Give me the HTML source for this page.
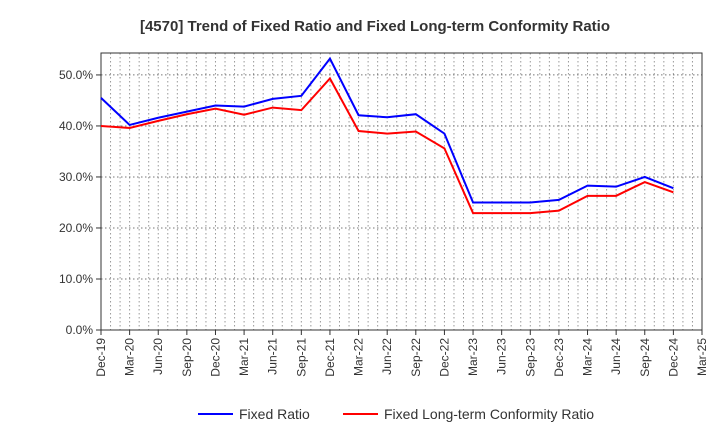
<!DOCTYPE html>
<html><head><meta charset="utf-8"><style>
body{margin:0;background:#fff;font-family:"Liberation Sans",sans-serif;}
</style></head><body>
<svg id="c" width="720" height="440" xmlns="http://www.w3.org/2000/svg" font-family="Liberation Sans, sans-serif">
<text x="375" y="31" text-anchor="middle" font-size="15" font-weight="bold" fill="#333">[4570]  Trend of Fixed Ratio and Fixed Long-term Conformity Ratio</text>
<g id="grid"></g><g id="axes"></g><g id="series"></g>
<g>
<line x1="198" y1="414" x2="233" y2="414" stroke="#0000ff" stroke-width="2"/>
<text x="239" y="419" font-size="14" fill="#333">Fixed Ratio</text>
<line x1="343" y1="414" x2="378" y2="414" stroke="#ff0000" stroke-width="2"/>
<text x="384" y="419" font-size="14" fill="#333">Fixed Long-term Conformity Ratio</text>
</g>
</svg>
<script>
const categories=["Dec-19","Mar-20","Jun-20","Sep-20","Dec-20","Mar-21","Jun-21","Sep-21","Dec-21","Mar-22","Jun-22","Sep-22","Dec-22","Mar-23","Jun-23","Sep-23","Dec-23","Mar-24","Jun-24","Sep-24","Dec-24","Mar-25"];
const fixedRatio=[45.5,40.2,41.6,42.8,44.0,43.8,45.3,45.9,53.2,42.1,41.7,42.3,38.5,25.0,25.0,25.0,25.5,28.3,28.1,30.0,27.8];
const conformityRatio=[40.0,39.6,41.0,42.3,43.4,42.2,43.6,43.1,49.3,39.0,38.5,38.9,35.6,22.9,22.9,22.9,23.4,26.3,26.3,29.0,27.0];
const yTicks=[0,10,20,30,40,50];
const L=101,R=702,T=53,B=330,yMax=54.3;
const ns="http://www.w3.org/2000/svg";
const x=i=>L+(R-L)*i/(categories.length-1);
const y=v=>B-(B-T)*v/yMax;
function mk(tag,attrs,parent){const e=document.createElementNS(ns,tag);for(const k in attrs)e.setAttribute(k,attrs[k]);document.getElementById(parent).appendChild(e);return e;}
for(let m=1;m<(categories.length-1)*3;m++){const xx=L+(R-L)*m/((categories.length-1)*3);
const g=mk('line',{x1:xx,x2:xx,y1:T,y2:B,stroke:'#999','stroke-dasharray':'1.5,2.5','stroke-width':1},'grid');

}
yTicks.forEach(t=>{const yy=y(t);
if(t>0){const g=mk('line',{x1:L,x2:R,y1:yy,y2:yy,stroke:'#777','stroke-dasharray':'1.5,2.5','stroke-width':1},'grid');

}
const tk=mk('line',{x1:L-5,x2:L,y1:yy,y2:yy,stroke:'#333'},'axes');


const tx=mk('text',{x:L-8,y:yy+4,'text-anchor':'end','font-size':12,fill:'#333'},'axes');
tx.textContent=t.toFixed(1)+'%';

});
categories.forEach((c,i)=>{const xx=x(i);
const tk=mk('line',{x1:xx,x2:xx,y1:B,y2:B+5,stroke:'#333'},'axes');


const tx=mk('text',{x:xx+4,y:B+8,'text-anchor':'end','font-size':12,fill:'#333',transform:`rotate(-90 ${xx+4} ${B+8})`},'axes');
tx.textContent=c;

});
const fr=mk('rect',{x:L,y:T,width:R-L,height:B-T,fill:'none',stroke:'#333','stroke-width':1},'axes');


function line(data,color,name){const p=mk('polyline',{points:data.map((v,i)=>x(i)+','+y(v)).join(' '),fill:'none',stroke:color,'stroke-width':2},'series');

}
line(conformityRatio,'#ff0000','conformity-ratio-line');
line(fixedRatio,'#0000ff','fixed-ratio-line');
</script>
</body></html>
